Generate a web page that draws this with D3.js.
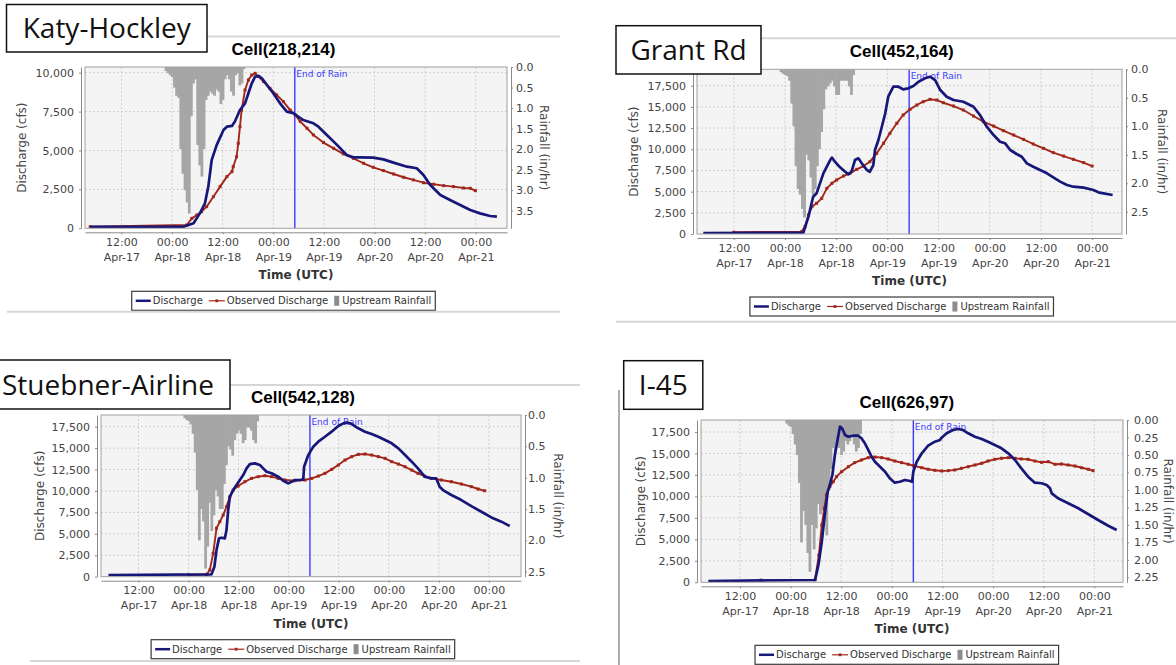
<!DOCTYPE html>
<html>
<head>
<meta charset="utf-8">
<script src="https://cdn.jsdelivr.net/npm/d3@7"></script>
<style>
body { margin: 0; background: #fff; }
svg { display: block; font-family: "DejaVu Sans", sans-serif; }
</style>
</head>
<body>
<svg id="chart" width="1176" height="665"></svg>
<script>
// time is in hours since Apr-17 00:00 UTC
var xTickHours = [12, 24, 36, 48, 60, 72, 84, 96];
var xTickTimes = ["12:00", "00:00", "12:00", "00:00", "12:00", "00:00", "12:00", "00:00"];
var xTickDays = ["Apr-17", "Apr-18", "Apr-18", "Apr-19", "Apr-19", "Apr-20", "Apr-20", "Apr-21"];
var endOfRain = 53.1;
var legendNames = ["Discharge", "Observed Discharge", "Upstream Rainfall"];

var katyFlowTicks = [0, 2500, 5000, 7500, 10000];
var flowTicks = [0, 2500, 5000, 7500, 10000, 12500, 15000, 17500];
var katyRainTicks = [0, 0.5, 1, 1.5, 2, 2.5, 3, 3.5];
var halfRainTicks = [0, 0.5, 1, 1.5, 2, 2.5];
var i45RainTicks = [0, 0.25, 0.5, 0.75, 1, 1.25, 1.5, 1.75, 2, 2.25];

var rainStep = 0.5;

// Katy-Hockley, Cell(218,214)
var katyDischarge = [[4.6,100],[26.7,100],[29.1,320],[30.6,960],[31.8,1610],[32.6,2680],[33.4,4390],[34.6,5360],[36.2,6320],[37.0,6530],[38.2,6580],[38.9,6860],[40.1,7600],[41.3,8030],[42.1,8680],[42.9,9320],[43.7,9750],[44.5,9790],[45.3,9640],[46.5,9210],[48.0,8680],[49.6,8030],[51.2,7500],[52.8,7390],[53.9,7180],[55.1,6960],[57.5,6750],[58.7,6530],[60.7,6000],[63.1,5360],[65.4,4710],[67.0,4560],[68.6,4560],[71.7,4540],[74.1,4430],[76.5,4220],[79.7,3960],[82.0,3860],[83.6,3430],[85.2,2780],[87.6,2140],[89.9,1820],[92.3,1500],[94.7,1180],[97.0,960],[99.4,790],[101.0,750]];
var katyObserved = [[4.6,100],[27.5,210],[28.7,640],[29.9,860],[31.0,1070],[32.2,1390],[33.8,2030],[35.4,2680],[37.0,3320],[38.2,3640],[38.5,3960],[39.3,4600],[39.7,5460],[40.1,6530],[40.5,7600],[41.3,8890],[42.1,9530],[42.9,9850],[43.7,9960],[44.5,9750],[45.7,9430],[47.2,9000],[48.8,8570],[50.4,8140],[52.0,7600],[53.2,7280],[54.4,6860],[56.0,6430],[57.5,6000],[59.9,5510],[62.3,5140],[64.6,4780],[67.0,4500],[69.4,4180],[71.7,3920],[74.1,3710],[76.5,3490],[78.9,3280],[81.2,3110],[83.6,2930],[86.0,2830],[88.4,2740],[90.7,2680],[93.1,2590],[94.7,2570],[95.9,2420]];
var katyRainStart = 22.5;
var katyRain = [0.1,0.15,0.2,0.25,0.5,0.7,0.75,2.0,2.6,3.0,3.3,3.57,1.2,0.4,0.3,1.9,2.4,2.67,2.0,0.8,0.7,0.6,0.65,0.7,0.55,0.6,0.9,0.8,0.3,0.2,0.3,0.6,0.7,0.2,0.15,0.45,0.4,0.05];

// Grant Rd, Cell(452,164)
var grantDischarge = [[4.85,120],[28.3,160],[29.5,2050],[30.6,4400],[31.4,4800],[32.2,5980],[33.0,7160],[33.8,7940],[34.6,8730],[35.0,9010],[35.7,8530],[36.9,7870],[38.1,7350],[38.9,7040],[39.6,7350],[40.4,8730],[41.2,8930],[42.0,8340],[43.2,7550],[43.9,7350],[44.7,8140],[45.1,9910],[45.9,11090],[46.7,12660],[47.5,14240],[48.2,16200],[49.4,17380],[50.6,17380],[51.7,17070],[52.9,17190],[54.1,17460],[55.3,17970],[56.8,18370],[58.0,18560],[59.2,18170],[60.4,16990],[61.9,16200],[63.5,15810],[65.8,15610],[68.2,15020],[69.7,14040],[71.3,12660],[72.9,11680],[74.4,10890],[75.6,10700],[76.8,9910],[78.3,9440],[79.5,9120],[80.7,8340],[82.2,7940],[83.8,7550],[85.4,7160],[86.9,6690],[88.5,6180],[90.1,5780],[91.6,5580],[94.0,5470],[96.3,5190],[97.7,4880],[100.8,4600]];
var grantObserved = [[12.0,200],[27.9,280],[28.7,870],[29.5,2240],[30.3,3220],[31.4,3620],[32.6,4210],[33.8,5390],[35.0,5980],[36.1,6370],[37.7,6840],[39.2,7160],[40.8,7630],[42.4,8020],[43.9,8530],[45.5,9520],[47.1,10700],[48.6,11880],[50.2,13060],[51.7,14040],[53.3,14710],[54.9,15220],[56.4,15610],[58.0,15890],[59.6,15810],[61.1,15490],[63.5,15100],[65.8,14630],[68.2,13920],[70.5,13250],[72.9,12740],[75.2,12190],[77.6,11680],[79.9,11170],[82.2,10620],[84.6,10110],[86.9,9600],[89.3,9200],[91.6,8810],[94.0,8420],[96.0,8020]];
var grantRainStart = 23;
var grantRain = [0.05,0.08,0.1,0.12,0.2,0.6,1.0,1.7,2.1,2.2,2.45,2.6,1.5,1.6,1.9,2.2,2.1,1.7,1.4,1.1,0.7,0.35,0.3,0.25,0.2,0.3,0.45,0.45,0.2,0.2,0.2,0.2,0.3,0.45,0.1];

// Stuebner-Airline, Cell(542,128)
var stuebDischarge = [[4.8,200],[29.5,270],[30.2,1170],[30.7,3110],[31.3,4470],[31.9,4550],[32.7,4470],[33.1,5440],[33.5,7780],[33.9,9330],[34.7,10110],[35.5,10690],[36.3,11280],[37.1,11860],[37.9,12640],[38.7,13140],[39.9,13220],[41.1,13030],[41.9,12640],[42.7,12250],[43.9,12060],[45.5,11670],[46.7,11200],[47.9,10890],[48.7,11080],[49.5,11280],[50.7,11280],[51.5,11360],[51.7,12830],[52.7,14190],[53.9,15170],[55.1,15750],[56.7,16330],[58.3,16920],[59.9,17580],[61.1,17890],[62.3,17970],[63.1,17810],[64.7,17310],[66.3,16920],[67.9,16640],[69.5,16330],[71.1,15940],[72.7,15560],[74.3,14970],[75.9,14190],[77.5,13420],[79.0,12640],[80.6,11670],[82.2,11470],[83.4,11470],[84.2,10500],[85.0,10110],[87.0,9530],[89.4,8940],[91.8,8240],[94.2,7580],[96.6,6920],[99.0,6420],[101.0,5910]];
var stuebObserved = [[24.0,200],[28.3,270],[29.1,780],[29.9,2720],[30.7,5650],[31.5,6420],[32.3,7190],[33.1,8170],[33.9,9330],[34.7,10110],[35.9,10580],[37.5,11080],[39.1,11470],[40.7,11670],[42.3,11780],[43.9,11670],[45.5,11470],[47.1,11280],[49.5,11200],[51.9,11280],[53.5,11470],[55.1,11740],[56.7,12060],[58.3,12520],[59.9,13030],[61.5,13610],[63.1,14000],[64.7,14270],[66.3,14310],[67.9,14190],[69.5,14000],[71.1,13810],[72.7,13420],[74.3,13140],[75.9,12830],[77.5,12440],[79.0,12060],[80.6,11740],[82.2,11470],[84.6,11280],[87.0,11080],[89.4,10810],[91.8,10500],[93.4,10230],[95.0,10030]];
var stuebRainStart = 23;
var stuebRain = [0.05,0.08,0.1,0.15,0.3,0.6,1.2,2.0,1.5,1.7,2.45,2.1,1.4,1.85,1.6,1.2,1.3,1.5,1.5,1.1,0.8,0.5,0.55,0.65,0.4,0.3,0.25,0.3,0.45,0.4,0.2,0.2,0.25,0.4,0.45,0.1];

// I-45, Cell(626,97)
var i45Discharge = [[4.5,150],[29.8,270],[30.6,2010],[31.4,4730],[32.1,7840],[32.8,10550],[33.3,11330],[33.9,12490],[34.5,14820],[35.2,16770],[35.7,18120],[36.2,17930],[36.9,17150],[37.7,16950],[38.8,17070],[40.0,17070],[40.8,16770],[41.6,16190],[42.4,15410],[43.2,14630],[44.0,14040],[45.2,13460],[46.4,12880],[47.5,12110],[48.7,11600],[49.9,11710],[51.1,11910],[52.3,11800],[52.8,11710],[53.1,12880],[53.9,14040],[55.1,15020],[56.6,15910],[58.2,16370],[59.4,16570],[59.8,16840],[61.0,17350],[62.5,17730],[63.7,17850],[64.9,17730],[66.1,17350],[67.7,16950],[69.3,16690],[70.8,16370],[72.4,15990],[74.0,15600],[75.6,15020],[77.2,14240],[78.7,13270],[80.3,12300],[81.9,11600],[83.5,11530],[84.7,11330],[85.5,10950],[85.9,10360],[87.4,9780],[89.8,9200],[92.2,8620],[94.6,7920],[96.9,7250],[99.3,6590],[101.3,6090]];
var i45Observed = [[17.0,250],[29.8,300],[30.7,3180],[31.4,6680],[32.0,8620],[32.5,10170],[33.3,11140],[34.1,11710],[34.9,12300],[36.1,12880],[37.7,13460],[39.2,13930],[40.8,14240],[42.4,14510],[44.0,14590],[45.6,14510],[47.1,14360],[48.7,14120],[50.3,13930],[51.9,13740],[53.1,13580],[55.1,13340],[56.6,13160],[58.2,13040],[59.8,12960],[61.4,13000],[62.9,13080],[64.5,13270],[66.1,13460],[67.7,13660],[69.3,13860],[70.8,14120],[72.4,14320],[74.0,14440],[75.6,14510],[77.2,14440],[78.7,14360],[80.3,14320],[81.9,14120],[83.5,13970],[85.1,14040],[86.7,13740],[88.2,13780],[89.8,13660],[91.4,13540],[93.0,13340],[94.6,13160],[95.7,13000]];
var i45RainStart = 23;
var i45Rain = [0.05,0.08,0.1,0.2,0.35,0.5,0.9,1.75,1.3,1.5,1.9,2.17,1.5,1.85,1.55,1.2,1.35,1.3,1.4,1.65,1.0,0.7,0.4,0.45,0.35,0.4,0.5,0.45,0.3,0.35,0.3,0.2,0.35,0.45,0.4,0.2];

var panels = [
  { label: "Katy-Hockley", title: "Cell(218,214)", flow: katyDischarge, obs: katyObserved,
    rain: katyRain, rainStart: katyRainStart, flowTicks: katyFlowTicks, rainTicks: katyRainTicks, rainFmt: ".1f",
    x0: 85, x1: 507, y0: 67, y1: 228.3, hMin: 3.37, hMax: 103.4, flowMax: 10366, rainMax: 3.93,
    mid: 283.5, yLabX: 63.6, rLabX: 37.6, rPad: 3,
    box: [6.5, 4.5, 200.5, 47.5],
    lines: [[207, 36.5, 560, 36.5], [7, 311.7, 560, 311.7]] },
  { label: "Grant Rd", title: "Cell(452,164)", flow: grantDischarge, obs: grantObserved,
    rain: grantRain, rainStart: grantRainStart, flowTicks: flowTicks, rainTicks: halfRainTicks, rainFmt: ".1f",
    x0: 697, x1: 1122, y0: 69.3, y1: 234, hMin: 3.37, hMax: 103.0, flowMax: 19435, rainMax: 2.89,
    mid: 901.7, yLabX: 63.5, rLabX: 40, rPad: 3,
    box: [616, 25.7, 145, 48.3],
    lines: [[761, 38.3, 1176, 38.3], [616, 321.7, 1176, 321.7]] },
  { label: "Stuebner-Airline", title: "Cell(542,128)", flow: stuebDischarge, obs: stuebObserved,
    rain: stuebRain, rainStart: stuebRainStart, flowTicks: flowTicks, rainTicks: halfRainTicks, rainFmt: ".1f",
    x0: 101, x1: 521, y0: 415, y1: 576.7, hMin: 3.01, hMax: 103.7, flowMax: 18865, rainMax: 2.58,
    mid: 302.9, yLabX: 61.5, rLabX: 37.7, rPad: 1,
    box: [-14, 360, 244, 49],
    lines: [[230, 385, 580, 385], [30, 661, 580, 661]] },
  { label: "I-45", title: "Cell(626,97)", flow: i45Discharge, obs: i45Observed,
    rain: i45Rain, rainStart: i45RainStart, flowTicks: flowTicks, rainTicks: i45RainTicks, rainFmt: ".2f",
    x0: 701, x1: 1123, y0: 420, y1: 582.3, hMin: 2.76, hMax: 102.8, flowMax: 18897, rainMax: 2.32,
    mid: 906.8, yLabX: 60.3, rLabX: 45.5, rPad: 5,
    box: [623.7, 360.7, 79.1, 48.6],
    lines: [[619, 390, 619, 665]] }
];

var svg = d3.select("#chart");
var blue = "#17177a", red = "#a3261b", rainGrey = "#a6a6a6", markerBlue = "#3b3bff";

function styleAxis(g) {
  g.attr("font-family", "DejaVu Sans").attr("font-size", 11);
  g.select(".domain").attr("stroke", "#8a8a8a");
  g.selectAll(".tick line").attr("stroke", "#8a8a8a");
  g.selectAll(".tick text").attr("fill", "#444");
}

function makePanel(p, idx) {
  var g = svg.append("g");
  var x = d3.scaleLinear().domain([p.hMin, p.hMax]).range([p.x0, p.x1]);
  var y = d3.scaleLinear().domain([0, p.flowMax]).range([p.y1, p.y0]);
  var r = d3.scaleLinear().domain([0, p.rainMax]).range([p.y0, p.y1]);

  p.lines.forEach(function (l) {
    svg.append("line").attr("x1", l[0]).attr("y1", l[1]).attr("x2", l[2]).attr("y2", l[3])
      .attr("stroke", l[0] === l[2] ? "#777" : "#d6d6d6").attr("stroke-width", l[0] === l[2] ? 1.2 : 2);
  });

  var clipId = "clip" + idx;
  g.append("clipPath").attr("id", clipId).append("rect")
    .attr("x", p.x0).attr("y", p.y0).attr("width", p.x1 - p.x0).attr("height", p.y1 - p.y0);

  g.append("rect").attr("x", p.x0).attr("y", p.y0).attr("width", p.x1 - p.x0).attr("height", p.y1 - p.y0)
    .attr("fill", "#f4f4f4");

  // gridlines
  g.selectAll(".vgrid").data(xTickHours).enter().append("line")
    .attr("x1", function (d) { return x(d); }).attr("x2", function (d) { return x(d); })
    .attr("y1", p.y0).attr("y2", p.y1)
    .attr("stroke", "#cfcfcf").attr("stroke-dasharray", "2,2");
  g.selectAll(".hgrid").data(p.flowTicks.slice(1)).enter().append("line")
    .attr("x1", p.x0).attr("x2", p.x1)
    .attr("y1", function (d) { return y(d); }).attr("y2", function (d) { return y(d); })
    .attr("stroke", "#cfcfcf").attr("stroke-dasharray", "2,2");

  var plot = g.append("g").attr("clip-path", "url(#" + clipId + ")");

  // upstream rainfall hanging from the top
  var barW = x(p.hMin + rainStep) - x(p.hMin);
  plot.selectAll(".rain").data(p.rain).enter().append("rect")
    .attr("x", function (d, i) { return x(p.rainStart + i * rainStep) - barW / 2; })
    .attr("y", p.y0)
    .attr("width", barW + 0.7)
    .attr("height", function (d) { return r(d) - p.y0; })
    .attr("fill", rainGrey);

  // end of rain marker
  plot.append("line").attr("x1", x(endOfRain)).attr("x2", x(endOfRain))
    .attr("y1", p.y0).attr("y2", p.y1).attr("stroke", markerBlue).attr("stroke-width", 1.4);
  plot.append("text").attr("x", x(endOfRain) + 1.5).attr("y", p.y0 + 10)
    .attr("font-size", 9).attr("fill", markerBlue).text("End of Rain");

  var line = d3.line().x(function (d) { return x(d[0]); }).y(function (d) { return y(d[1]); });

  plot.append("path").datum(p.obs).attr("d", line).attr("fill", "none")
    .attr("stroke", red).attr("stroke-width", 1.9).attr("stroke-linejoin", "round");
  plot.selectAll(".obsPt").data(p.obs).enter().append("rect")
    .attr("x", function (d) { return x(d[0]) - 1.5; }).attr("y", function (d) { return y(d[1]) - 1.5; })
    .attr("width", 3).attr("height", 3).attr("fill", red);

  plot.append("path").datum(p.flow).attr("d", line).attr("fill", "none")
    .attr("stroke", blue).attr("stroke-width", 2.7).attr("stroke-linejoin", "round");

  g.append("rect").attr("x", p.x0).attr("y", p.y0).attr("width", p.x1 - p.x0).attr("height", p.y1 - p.y0)
    .attr("fill", "none").attr("stroke", "#a0a0a0");

  // axes
  var gy = g.append("g").attr("transform", "translate(" + (p.x0 - 4) + ",0)")
    .call(d3.axisLeft(y).tickValues(p.flowTicks).tickFormat(d3.format(",")).tickSize(2).tickSizeOuter(0).tickPadding(5));
  styleAxis(gy);

  var gr = g.append("g").attr("transform", "translate(" + (p.x1 + 4) + ",0)")
    .call(d3.axisRight(r).tickValues(p.rainTicks).tickFormat(d3.format(p.rainFmt)).tickSize(2).tickSizeOuter(0).tickPadding(p.rPad));
  styleAxis(gr);

  var gx = g.append("g").attr("transform", "translate(0," + (p.y1 + 4) + ")")
    .call(d3.axisBottom(x).tickValues(xTickHours)
      .tickFormat(function (d) { return xTickTimes[xTickHours.indexOf(d)]; })
      .tickSize(2).tickSizeOuter(0).tickPadding(4));
  styleAxis(gx);
  gx.selectAll(".tick text").append("tspan").attr("x", 0).attr("dy", 15)
    .text(function (d) { return xTickDays[xTickHours.indexOf(d)]; });

  // titles
  g.append("text").attr("x", p.mid).attr("y", p.y0 - 12).attr("text-anchor", "middle")
    .attr("font-family", "Liberation Sans, Arial, sans-serif").attr("font-weight", "bold")
    .attr("font-size", 17).attr("fill", "#000").text(p.title);

  g.append("text").attr("transform", "translate(" + (p.x0 - p.yLabX) + "," + ((p.y0 + p.y1) / 2) + ") rotate(-90)")
    .attr("text-anchor", "middle").attr("dy", "0.35em").attr("font-size", 12).attr("fill", "#444")
    .text("Discharge (cfs)");
  g.append("text").attr("transform", "translate(" + (p.x1 + p.rLabX) + "," + ((p.y0 + p.y1) / 2) + ") rotate(90)")
    .attr("text-anchor", "middle").attr("dy", "0.35em").attr("font-size", 12).attr("fill", "#444")
    .text("Rainfall (in/hr)");
  g.append("text").attr("x", (p.x0 + p.x1) / 2).attr("y", p.y1 + 51).attr("text-anchor", "middle")
    .attr("font-size", 12).attr("font-weight", "bold").attr("fill", "#333").text("Time (UTC)");

  // legend
  var lg = g.append("g");
  var ly = p.y1 + 63, lh = 19, cx = 4, cyl = ly + lh / 2;
  var boxRect = lg.append("rect").attr("y", ly).attr("height", lh).attr("fill", "#fff")
    .attr("stroke", "#3a3a3a").attr("stroke-width", 1.2);
  legendNames.forEach(function (name, i) {
    var item = lg.append("g");
    if (i === 0) {
      item.append("line").attr("x1", cx).attr("x2", cx + 15).attr("y1", cyl).attr("y2", cyl)
        .attr("stroke", blue).attr("stroke-width", 2.5);
      cx += 17;
    } else if (i === 1) {
      item.append("line").attr("x1", cx).attr("x2", cx + 16).attr("y1", cyl).attr("y2", cyl)
        .attr("stroke", red).attr("stroke-width", 1.2);
      item.append("rect").attr("x", cx + 6.6).attr("y", cyl - 1.4).attr("width", 2.8).attr("height", 2.8).attr("fill", red);
      cx += 18;
    } else {
      item.append("rect").attr("x", cx).attr("y", cyl - 5).attr("width", 5).attr("height", 10).attr("fill", "#8c8c8c");
      cx += 8;
    }
    var t = item.append("text").attr("x", cx).attr("y", cyl).attr("dy", "0.35em")
      .attr("font-size", 10).attr("fill", "#333").text(name);
    cx += t.node().getComputedTextLength() + 6;
  });
  var lw = cx - 2;
  boxRect.attr("x", 0).attr("width", lw);
  lg.attr("transform", "translate(" + (p.mid - lw / 2) + ",0)");

  // site label box
  svg.append("rect").attr("x", p.box[0]).attr("y", p.box[1]).attr("width", p.box[2]).attr("height", p.box[3])
    .attr("fill", "#fff").attr("stroke", "#111").attr("stroke-width", 1.5);
  svg.append("text").attr("x", p.box[0] + p.box[2] / 2).attr("y", p.box[1] + p.box[3] / 2 + 10)
    .attr("text-anchor", "middle").attr("font-family", "Open Sans, sans-serif").attr("font-size", 28)
    .attr("fill", "#111").text(p.label);
}

panels.forEach(makePanel);
</script>
</body>
</html>
